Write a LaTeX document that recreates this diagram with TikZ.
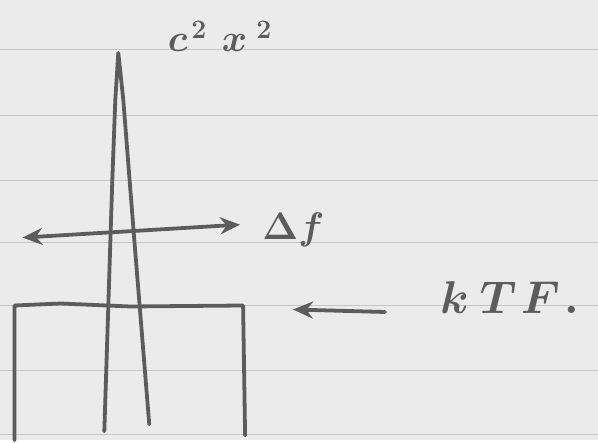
\documentclass[tikz,border=0pt]{standalone}
\usepackage{amsmath,amssymb}
\usepackage{tikz}
\usepackage{xcolor}
\usetikzlibrary{arrows.meta}
\definecolor{paper}{HTML}{EBEBEB}
\definecolor{ruling}{HTML}{C6C6C6}
\definecolor{pen}{HTML}{5C5C5C}

\begin{document}
\begin{tikzpicture}[x=1pt,y=-1pt,every node/.style={font=\huge\boldmath,scale=1.85,text=pen,inner sep=0pt},
  ink/.style={draw=pen,line width=3.8pt,line cap=round,line join=round},
  tip/.style={-{Stealth[length=20pt,width=17pt]}}]
\fill[paper] (0,0) rectangle (598,441);
\foreach \y in {50,116,181,243,306,371,435}
  \draw[ruling,line width=1pt] (0,\y) -- (598,\y);
\draw[ink] (104,432) -- (112,180) -- (115,100) -- (118,53) -- (123,100) -- (134,240) -- (149,425);
\draw[ink] (14,441) -- (14,306) -- (60,304) -- (130,307) -- (243,306) -- (245,436);
\node[anchor=base] (cx) at (220,52) {$c^{\hspace{2pt}2}\hspace{8pt}x^{\hspace{5pt}2}$};
\node[anchor=base west] (df) at (262,240) {$\Delta f$};
\node[anchor=base west,scale=1.2] (ktf) at (440,314) {$k\hspace{5pt}T\hspace{2pt}F\hspace{2pt}.$};
\coordinate (dl) at (22,238);
\coordinate (dr) at (240,225);
\coordinate (kh) at (293,310);
\draw[ink,{Stealth[length=20pt,width=17pt]}-{Stealth[length=20pt,width=17pt]}] (dl) -- (dr);
\draw[ink,tip,shorten <=55pt] (ktf.base west) -- (kh);
\end{tikzpicture}
\end{document}
